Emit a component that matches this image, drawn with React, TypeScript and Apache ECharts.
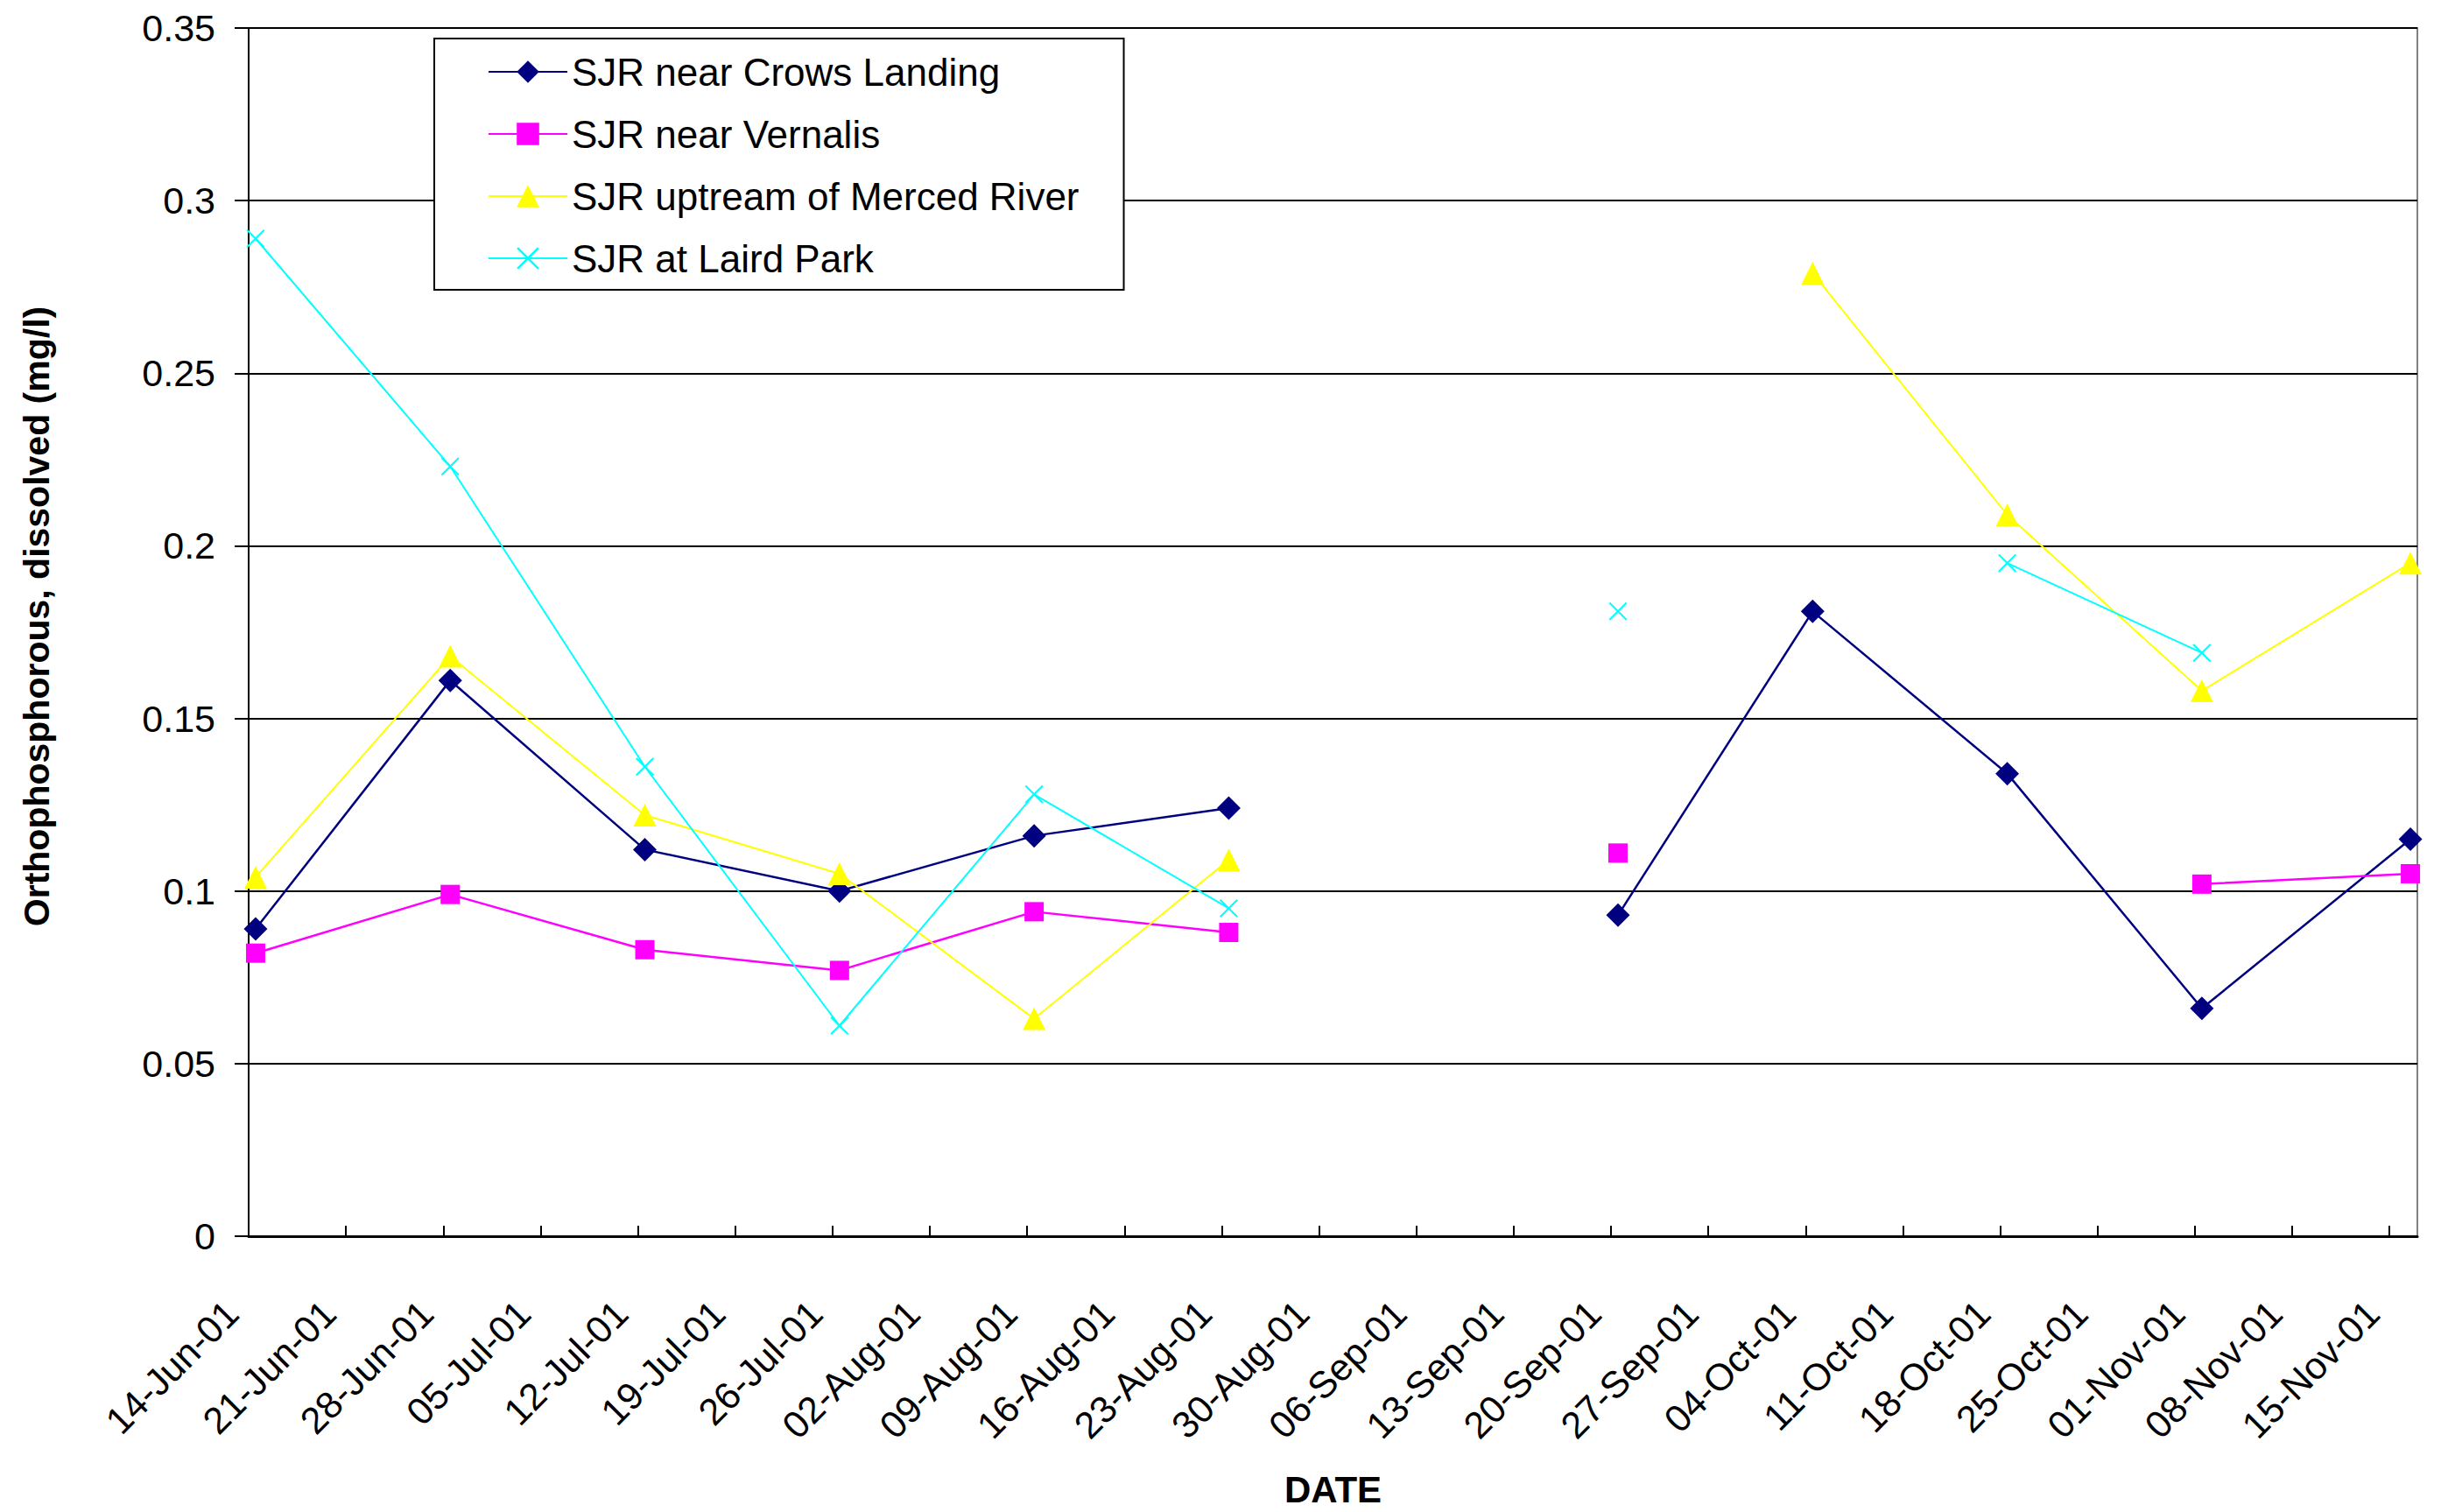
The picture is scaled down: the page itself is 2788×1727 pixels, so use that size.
import React, { useEffect, useRef } from "react";
import * as echarts from "echarts";

// Sampling dates (a blank row on 06-Sep breaks the lines, as in the source sheet)
const sampleDates = [
  "2001-06-14", "2001-06-28", "2001-07-12", "2001-07-26", "2001-08-09", "2001-08-23",
  "2001-09-06", "2001-09-20", "2001-10-04", "2001-10-18", "2001-11-01", "2001-11-16",
];
const crowsLanding = [0.089, 0.161, 0.112, 0.1, 0.116, 0.124, null, 0.093, 0.181, 0.134, 0.066, 0.115];
const vernalis = [0.082, 0.099, 0.083, 0.077, 0.094, 0.088, null, 0.111, null, null, 0.102, 0.105];
const mercedUpstream = [0.104, 0.168, 0.122, 0.105, 0.063, 0.109, null, null, 0.279, 0.209, 0.158, 0.195];
const lairdPark = [0.289, 0.223, 0.136, 0.061, 0.128, 0.095, null, 0.181, null, 0.195, 0.169, null];

const seriesNames = [
  "SJR near Crows Landing",
  "SJR near Vernalis",
  "SJR uptream of Merced River",
  "SJR at Laird Park",
];

const xTickLabels = [
  "14-Jun-01", "21-Jun-01", "28-Jun-01", "05-Jul-01", "12-Jul-01", "19-Jul-01",
  "26-Jul-01", "02-Aug-01", "09-Aug-01", "16-Aug-01", "23-Aug-01", "30-Aug-01",
  "06-Sep-01", "13-Sep-01", "20-Sep-01", "27-Sep-01", "04-Oct-01", "11-Oct-01",
  "18-Oct-01", "25-Oct-01", "01-Nov-01", "08-Nov-01", "15-Nov-01",
];

const DAY = 86400000;
const t0 = Date.parse(sampleDates[0]);
const dayIndex = (d: string) => Math.round((Date.parse(d) - t0) / DAY);
// date axis in days; each day is a slot, points sit in the middle of their day
const axisDays = dayIndex(sampleDates[sampleDates.length - 1]) + 1;

const toPoints = (vals: (number | null)[]) =>
  sampleDates.map((d, i) => [dayIndex(d) + 0.5, vals[i] === null ? "-" : vals[i]]);

const FONT = "'Liberation Sans', Arial, Helvetica, sans-serif";

export default function App() {
  const ref = useRef<HTMLDivElement>(null);

  useEffect(() => {
    if (!ref.current) return;
    const chart = echarts.init(ref.current, null, { renderer: "svg" });

    const crossPath =
      "path://M0,0.7L0.7,0L10,9.3L9.3,10Z M9.3,0L10,0.7L0.7,10L0,9.3Z";

    const mk = (
      name: string,
      vals: (number | null)[],
      color: string,
      symbol: string,
      size: number | number[],
      width: number
    ) => ({
      name,
      type: "line",
      data: toPoints(vals),
      connectNulls: false,
      showSymbol: true,
      showAllSymbol: true,
      symbol,
      symbolSize: size,
      lineStyle: { color, width },
      itemStyle: { color },
      emphasis: { disabled: true },
    });

    chart.setOption({
      animation: false,
      backgroundColor: "#ffffff",
      textStyle: { fontFamily: FONT, color: "#000" },
      grid: {
        left: 284,
        right: 27,
        top: 32,
        bottom: 309,
        show: true,
        borderColor: "#808080",
        borderWidth: 2,
        backgroundColor: "#ffffff",
      },
      legend: {
        orient: "vertical",
        left: 496,
        top: 44,
        padding: [16, 51, 14, 61],
        itemWidth: 90,
        itemHeight: 32,
        itemGap: 27,
        backgroundColor: "#ffffff",
        borderColor: "#000000",
        borderWidth: 2,
        textStyle: { fontFamily: FONT, fontSize: 44, lineHeight: 44, color: "#000" },
        data: seriesNames,
      },
      xAxis: {
        type: "value",
        min: 0,
        max: axisDays,
        interval: 7,
        name: "DATE",
        nameLocation: "middle",
        nameGap: 268,
        nameTextStyle: { fontFamily: FONT, fontSize: 42, fontWeight: "bold", color: "#000" },
        axisLine: { show: true, lineStyle: { color: "#000", width: 3 } },
        axisTick: { show: true, inside: true, length: 12, lineStyle: { color: "#000", width: 2 } },
        splitLine: { show: false },
        axisLabel: {
          rotate: 45,
          margin: 62,
          padding: [0, 27, 0, 0],
          fontSize: 43,
          fontFamily: FONT,
          color: "#000",
          showMaxLabel: false,
          formatter: (v: number) => {
            const k = Math.round(v / 7);
            return Math.abs(v - k * 7) < 1e-6 && xTickLabels[k] ? xTickLabels[k] : "";
          },
        },
      },
      yAxis: {
        type: "value",
        min: 0,
        max: 0.35,
        interval: 0.05,
        name: "Orthophosphorous, dissolved (mg/l)",
        nameLocation: "middle",
        nameGap: 222,
        nameTextStyle: { fontFamily: FONT, fontSize: 41, fontWeight: "bold", color: "#000", padding: [0, 0, 0, 36] },
        axisLine: { show: true, lineStyle: { color: "#000", width: 2 } },
        axisTick: { show: true, inside: false, length: 16, lineStyle: { color: "#000", width: 2 } },
        splitLine: { show: true, lineStyle: { color: "#000", width: 2 } },
        axisLabel: {
          margin: 38,
          fontSize: 43,
          fontFamily: FONT,
          color: "#000",
          formatter: (v: number) => String(Math.round(v * 100) / 100),
        },
      },
      series: [
        mk(seriesNames[0], crowsLanding, "#000080", "diamond", 27, 2.5),
        mk(seriesNames[1], vernalis, "#ff00ff", "rect", 22, 2.5),
        mk(seriesNames[2], mercedUpstream, "#ffff00", "triangle", 26, 2),
        mk(seriesNames[3], lairdPark, "#00ffff", crossPath, 21, 2),
      ],
    });

    return () => chart.dispose();
  }, []);

  return (
    <div
      ref={ref}
      style={{ position: "fixed", left: 0, top: 0, width: 2788, height: 1727, background: "#fff" }}
    />
  );
}
